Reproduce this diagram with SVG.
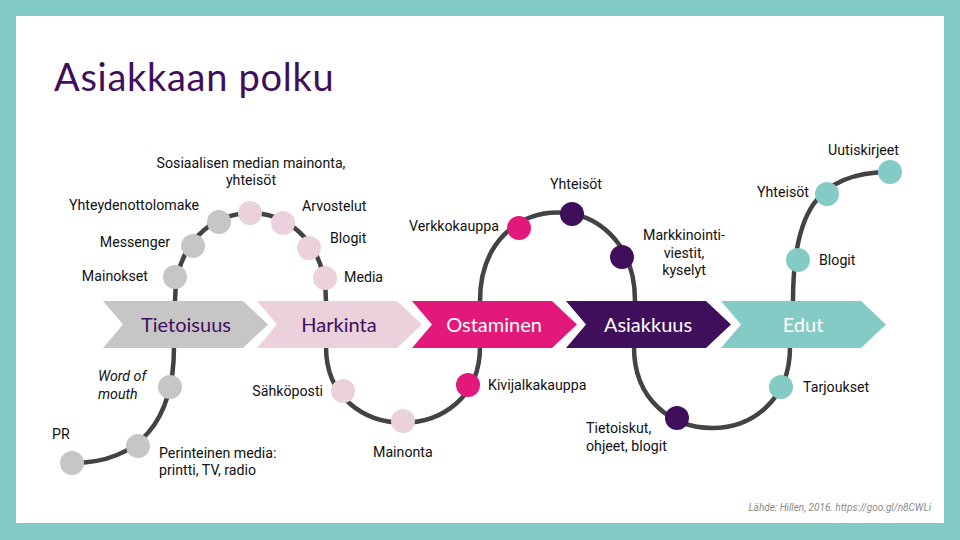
<svg xmlns="http://www.w3.org/2000/svg" width="960" height="540" viewBox="0 0 960 540">
<style>
.lbl{font-family:Roboto,"Liberation Sans",sans-serif;font-size:14.2px;fill:#111}
.it{font-style:italic}
.stage{font-family:Lato,"Noto Sans",sans-serif;font-size:20px;text-anchor:middle}
.path{fill:none;stroke:#434343;stroke-width:4.5}
.g{fill:#C6C6C6}.p{fill:#EAD1DC}.m{fill:#E2197A}.d{fill:#3F0F5C}.t{fill:#84CBC5}
</style>
<defs>
<polygon id="chev" points="0,0 140,0 165,23.5 140,47 0,47 20,23.5"/>
</defs>
<rect x="0" y="0" width="960" height="540" fill="#84CBC5"/>
<rect x="16" y="16" width="928" height="507" fill="#FFFFFF"/>
<text x="54" y="91" font-family="Lato,'Noto Sans',sans-serif" font-size="38" letter-spacing="0.7" fill="#3F0F5C">Asiakkaan polku</text>

<g id="connectors">
<path class="path" d="M175,301 C175,184 326,184 326,301"/>
<path class="path" d="M174,347 C174,420 140,463 72,463"/>
<path class="path" d="M326,347 C326,448 480,448 480,347"/>
<path class="path" d="M480,301 C480,183 635,183 635,301"/>
<path class="path" d="M634,347 C634,455 790,455 790,347"/>
<path class="path" d="M793,301 C793,215 815,172 890,172"/>
</g>

<g id="stage-tietoisuus"><use href="#chev" x="103" y="301" class="g"/><text class="stage" x="186" y="332" fill="#3F0F5C">Tietoisuus</text></g>
<g id="stage-harkinta"><use href="#chev" x="257" y="301" class="p"/><text class="stage" x="339" y="332" fill="#3F0F5C">Harkinta</text></g>
<g id="stage-ostaminen"><use href="#chev" x="412" y="301" class="m"/><text class="stage" x="494" y="332" fill="#FFFFFF">Ostaminen</text></g>
<g id="stage-asiakkuus"><use href="#chev" x="566" y="301" class="d"/><text class="stage" x="648" y="332" fill="#FFFFFF">Asiakkuus</text></g>
<g id="stage-edut"><use href="#chev" x="721" y="301" class="t"/><text class="stage" x="803" y="332" fill="#FFFFFF">Edut</text></g>

<g id="n-pr"><circle cx="72" cy="463" r="12" class="g"/><text class="lbl" x="52" y="439">PR</text></g>
<g id="n-perinteinen"><circle cx="138" cy="446" r="12" class="g"/><text class="lbl" x="159" y="458">Perinteinen media:</text><text class="lbl" x="159" y="475">printti, TV, radio</text></g>
<g id="n-wom"><circle cx="170" cy="387" r="12" class="g"/><text class="lbl it" x="98" y="381">Word of</text><text class="lbl it" x="98" y="399">mouth</text></g>
<g id="n-mainokset"><circle cx="175" cy="277" r="12" class="g"/><text class="lbl" x="148" y="281" text-anchor="end">Mainokset</text></g>
<g id="n-messenger"><circle cx="193" cy="246" r="12" class="g"/><text class="lbl" x="170" y="247" text-anchor="end">Messenger</text></g>
<g id="n-yhteydenotto"><circle cx="219" cy="222" r="12" class="g"/><text class="lbl" x="199" y="210" text-anchor="end">Yhteydenottolomake</text></g>
<g id="n-some"><circle cx="250" cy="213" r="12" class="p"/><text class="lbl" x="251" y="168" text-anchor="middle">Sosiaalisen median mainonta,</text><text class="lbl" x="251" y="185" text-anchor="middle">yhteisöt</text></g>
<g id="n-arvostelut"><circle cx="283" cy="223" r="12" class="p"/><text class="lbl" x="302" y="211">Arvostelut</text></g>
<g id="n-blogit1"><circle cx="309" cy="248" r="12" class="p"/><text class="lbl" x="330" y="243">Blogit</text></g>
<g id="n-media"><circle cx="325" cy="278" r="12" class="p"/><text class="lbl" x="344" y="282">Media</text></g>
<g id="n-sahkoposti"><circle cx="343" cy="391" r="12" class="p"/><text class="lbl" x="323" y="396" text-anchor="end">Sähköposti</text></g>
<g id="n-mainonta"><circle cx="403" cy="421" r="12" class="p"/><text class="lbl" x="373" y="457">Mainonta</text></g>
<g id="n-kivijalka"><circle cx="468" cy="385" r="12" class="m"/><text class="lbl" x="488" y="390">Kivijalkakauppa</text></g>
<g id="n-verkkokauppa"><circle cx="519" cy="228" r="12" class="m"/><text class="lbl" x="499" y="231" text-anchor="end">Verkkokauppa</text></g>
<g id="n-yhteisot1"><circle cx="572" cy="214" r="12" class="d"/><text class="lbl" x="576" y="189" text-anchor="middle">Yhteisöt</text></g>
<g id="n-markkinointi"><circle cx="622" cy="257" r="12" class="d"/><text class="lbl" x="684" y="240" text-anchor="middle">Markkinointi-</text><text class="lbl" x="684" y="258" text-anchor="middle">viestit,</text><text class="lbl" x="684" y="275" text-anchor="middle">kyselyt</text></g>
<g id="n-tietoiskut"><circle cx="677" cy="418" r="12" class="d"/><text class="lbl" x="586" y="433">Tietoiskut,</text><text class="lbl" x="586" y="451">ohjeet, blogit</text></g>
<g id="n-tarjoukset"><circle cx="781" cy="387" r="12" class="t"/><text class="lbl" x="803" y="392">Tarjoukset</text></g>
<g id="n-blogit2"><circle cx="798" cy="260" r="12" class="t"/><text class="lbl" x="819" y="265">Blogit</text></g>
<g id="n-yhteisot2"><circle cx="827" cy="194" r="12" class="t"/><text class="lbl" x="809" y="197" text-anchor="end">Yhteisöt</text></g>
<g id="n-uutiskirjeet"><circle cx="890" cy="172" r="12" class="t"/><text class="lbl" x="899" y="155" text-anchor="end">Uutiskirjeet</text></g>

<text x="931" y="511" text-anchor="end" font-family="Roboto,'Liberation Sans',sans-serif" font-style="italic" font-size="10" fill="#8A8A8A">Lähde: Hillen, 2016. https://goo.gl/n8CWLi</text>
</svg>
